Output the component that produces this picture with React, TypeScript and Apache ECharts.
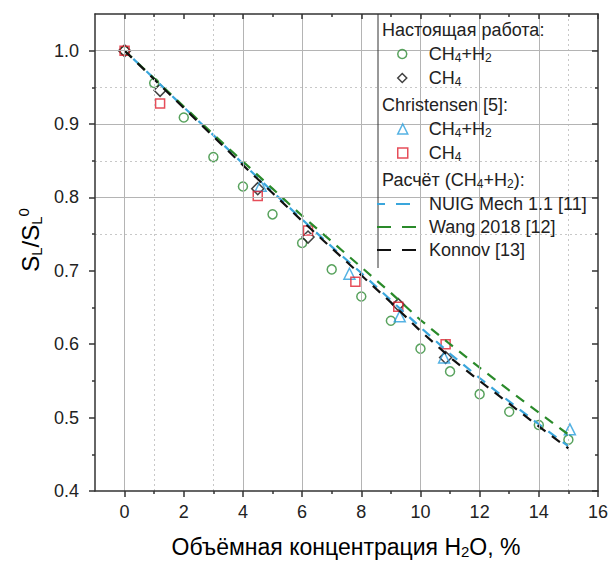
import React, { useEffect, useRef } from 'react';
import * as echarts from 'echarts';

// ---- data ----
const presentMixX = [0, 1, 2, 3, 4, 5, 6, 7, 8, 9, 10, 11, 12, 13, 14, 15];
const presentMixY = [1.0, 0.956, 0.909, 0.855, 0.815, 0.777, 0.738, 0.702, 0.665, 0.632, 0.594, 0.563, 0.532, 0.508, 0.49, 0.47];

const presentCH4X = [0, 1.2, 4.5, 6.2, 9.25, 10.85];
const presentCH4Y = [1.0, 0.946, 0.812, 0.746, 0.654, 0.582];

const christMixX = [4.6, 7.6, 9.3, 10.8, 15.05];
const christMixY = [0.816, 0.696, 0.638, 0.582, 0.484];

const christCH4X = [0, 1.2, 4.5, 6.2, 7.8, 9.25, 10.85];
const christCH4Y = [1.0, 0.928, 0.802, 0.755, 0.685, 0.651, 0.6];

const calcX = [0, 1, 2, 3, 4, 5, 6, 7, 8, 9, 10, 11, 12, 13, 14, 15];
const nuigY = [1.0, 0.962, 0.923, 0.885, 0.846, 0.808, 0.77, 0.733, 0.697, 0.66, 0.623, 0.587, 0.554, 0.522, 0.491, 0.461];
const wangY = [1.0, 0.962, 0.924, 0.886, 0.849, 0.812, 0.775, 0.74, 0.705, 0.67, 0.633, 0.6, 0.568, 0.537, 0.507, 0.477];
const konnovY = [1.0, 0.961, 0.922, 0.883, 0.844, 0.806, 0.768, 0.731, 0.694, 0.657, 0.618, 0.582, 0.55, 0.519, 0.488, 0.458];

// ---- axes / ticks ----
const xMajor = [0, 2, 4, 6, 8, 10, 12, 14, 16];
const xMinor = [1, 3, 5, 7, 9, 11, 13, 15];
const yMajor = [0.4, 0.5, 0.6, 0.7, 0.8, 0.9, 1.0];
const yMinor = [0.45, 0.55, 0.65, 0.75, 0.85, 0.95];

const gridXSolid = [0, 4, 6, 8, 10, 12, 14];
const gridXDotted = [1, 3, 15];
const gridYSolid = [0.8, 0.9, 1.0];
const gridYDotted = [0.75, 0.85, 0.95];

const FONT = '"Liberation Sans", Arial, Helvetica, sans-serif';
const AXIS_COLOR = '#333';
const TEXT_COLOR = '#222';

const legendNames: Record<string, string> = {
  pm: '{n|CH}{s|4}{n|+H}{s|2}',
  pc: '{n|CH}{s|4}',
  cm: '{n|CH}{s|4}{n|+H}{s|2}',
  cc: '{n|CH}{s|4}',
  nuig: '{n|NUIG Mech 1.1 [11]}',
  wang: '{n|Wang 2018 [12]}',
  konnov: '{n|Konnov [13]}',
};

const legendRich = {
  n: { fontSize: 18, lineHeight: 20, fontFamily: FONT, color: TEXT_COLOR },
  s: { fontSize: 12, fontFamily: FONT, color: TEXT_COLOR, verticalAlign: 'bottom' },
};

function pairs(xs: number[], ys: number[]) {
  return xs.map((x, i) => [x, ys[i]]);
}

export default function App() {
  const ref = useRef<HTMLDivElement>(null);

  useEffect(() => {
    document.body.style.margin = '0';
    const chart = echarts.init(ref.current!, null, { renderer: 'svg' });

    const axisLineStyle = { color: AXIS_COLOR, width: 1.5 };
    const baseX = { type: 'value', min: -1, max: 16, splitLine: { show: false } };
    const baseY = { type: 'value', min: 0.4, max: 1.05, splitLine: { show: false } };

    const xAxis = [
      {
        ...baseX, position: 'bottom', z: 6,
        axisLine: { show: true, onZero: false, lineStyle: axisLineStyle },
        axisTick: { show: true, inside: false, length: 6, customValues: xMajor, lineStyle: axisLineStyle },
        axisLabel: { show: true, customValues: xMajor, fontSize: 18, fontFamily: FONT, color: TEXT_COLOR, margin: 12 },
      },
      {
        ...baseX, position: 'bottom', z: 6,
        axisLine: { show: false, onZero: false },
        axisTick: { show: true, inside: false, length: 3, customValues: xMinor, lineStyle: axisLineStyle },
        axisLabel: { show: false },
      },
      {
        ...baseX, position: 'top', z: 6,
        axisLine: { show: true, onZero: false, lineStyle: axisLineStyle },
        axisTick: { show: true, inside: true, length: 5, customValues: xMajor, lineStyle: axisLineStyle },
        axisLabel: { show: false },
      },
      {
        ...baseX, position: 'top', z: 6,
        axisLine: { show: false, onZero: false },
        axisTick: { show: true, inside: true, length: 3, customValues: xMinor, lineStyle: axisLineStyle },
        axisLabel: { show: false },
      },
    ];

    const yAxis = [
      {
        ...baseY, position: 'left', z: 6,
        axisLine: { show: true, onZero: false, lineStyle: axisLineStyle },
        axisTick: { show: true, inside: false, length: 6, customValues: yMajor, lineStyle: axisLineStyle },
        axisLabel: {
          show: true, customValues: yMajor, fontSize: 18, fontFamily: FONT, color: TEXT_COLOR, margin: 16,
          formatter: (v: number) => v.toFixed(1),
        },
      },
      {
        ...baseY, position: 'left', z: 6,
        axisLine: { show: false, onZero: false },
        axisTick: { show: true, inside: false, length: 3, customValues: yMinor, lineStyle: axisLineStyle },
        axisLabel: { show: false },
      },
      {
        ...baseY, position: 'right', z: 6,
        axisLine: { show: true, onZero: false, lineStyle: axisLineStyle },
        axisTick: { show: true, inside: true, length: 6, customValues: yMajor, lineStyle: axisLineStyle },
        axisLabel: { show: false },
      },
      {
        ...baseY, position: 'right', z: 6,
        axisLine: { show: false, onZero: false },
        axisTick: { show: true, inside: true, length: 3, customValues: yMinor, lineStyle: axisLineStyle },
        axisLabel: { show: false },
      },
    ];

    const solid = { color: '#b4b4b4', width: 1, type: 'solid' };
    const dotted = { color: '#c8c8c8', width: 1, type: [2, 3] };
    const gridLines = [
      ...gridXSolid.map((v) => ({ xAxis: v, lineStyle: solid })),
      ...gridXDotted.map((v) => ({ xAxis: v, lineStyle: dotted })),
      ...gridYSolid.map((v) => ({ yAxis: v, lineStyle: solid })),
      ...gridYDotted.map((v) => ({ yAxis: v, lineStyle: dotted })),
    ];

    const dash = [10, 8];

    const series: any[] = [
      {
        name: '__grid', type: 'line', data: [], z: 1, silent: true, symbol: 'none',
        markLine: { silent: true, symbol: ['none', 'none'], label: { show: false }, animation: false, data: gridLines },
      },
      {
        name: 'pm', type: 'scatter', data: pairs(presentMixX, presentMixY), symbol: 'circle', symbolSize: 9,
        itemStyle: { color: 'rgba(0,0,0,0)', borderColor: '#2e8b35', borderWidth: 1.5 },
      },
      {
        name: 'pc', type: 'scatter', data: pairs(presentCH4X, presentCH4Y), symbol: 'diamond', symbolSize: 12,
        itemStyle: { color: 'rgba(0,0,0,0)', borderColor: '#111', borderWidth: 1.5 },
      },
      {
        name: 'cm', type: 'scatter', data: pairs(christMixX, christMixY), symbol: 'triangle', symbolSize: 11,
        itemStyle: { color: 'rgba(0,0,0,0)', borderColor: '#2a9fdc', borderWidth: 1.5 },
      },
      {
        name: 'cc', type: 'scatter', data: pairs(christCH4X, christCH4Y), symbol: 'rect', symbolSize: 9,
        itemStyle: { color: 'rgba(0,0,0,0)', borderColor: '#e02030', borderWidth: 1.5 },
      },
      {
        name: 'nuig', type: 'line', data: pairs(calcX, nuigY), symbol: 'none', showSymbol: false,
        lineStyle: { color: '#3aa6dc', width: 2.2, type: dash, dashOffset: 6 }, itemStyle: { color: '#3aa6dc' },
      },
      {
        name: 'wang', type: 'line', data: pairs(calcX, wangY), symbol: 'none', showSymbol: false,
        lineStyle: { color: '#2a8a2a', width: 2.2, type: dash, dashOffset: 0 }, itemStyle: { color: '#2a8a2a' },
      },
      {
        name: 'konnov', type: 'line', data: pairs(calcX, konnovY), symbol: 'none', showSymbol: false,
        lineStyle: { color: '#111', width: 2.2, type: dash, dashOffset: 0 }, itemStyle: { color: '#111' },
      },
    ];

    const legendCommon = {
      orient: 'vertical',
      padding: 0,
      itemGap: 5,
      selectedMode: false,
      z: 8,
      formatter: (name: string) => legendNames[name] || name,
      textStyle: { fontSize: 18, fontFamily: FONT, color: TEXT_COLOR, rich: legendRich },
    };

    const legend = [
      {
        ...legendCommon, left: 397, top: 45, itemWidth: 9, itemHeight: 9,
        itemStyle: { borderWidth: 1.5 },
        textStyle: { ...legendCommon.textStyle, padding: [0, 0, 0, 17] },
        data: ['pm', 'pc'],
      },
      {
        ...legendCommon, left: 397, top: 120, itemWidth: 10, itemHeight: 10,
        itemStyle: { borderWidth: 1.5 },
        textStyle: { ...legendCommon.textStyle, padding: [0, 0, 0, 16] },
        data: ['cm', 'cc'],
      },
      {
        ...legendCommon, left: 376, top: 195, itemWidth: 40, itemHeight: 10,
        lineStyle: { type: [14, 11], width: 2 },
        itemStyle: { color: 'rgba(0,0,0,0)', borderWidth: 0, opacity: 0 },
        textStyle: { ...legendCommon.textStyle, padding: [0, 0, 0, 7] },
        data: ['nuig', 'wang', 'konnov'],
      },
    ];

    const headerStyle = { font: `18px ${FONT}`, fill: TEXT_COLOR, verticalAlign: 'middle', align: 'left' };

    const graphic = [
      { type: 'rect', z: 3, shape: { x: 378, y: 15, width: 219, height: 253 }, style: { fill: '#fff', stroke: null } },
      { type: 'line', z: 7, shape: { x1: 378, y1: 14, x2: 378, y2: 268 }, style: { stroke: '#333', lineWidth: 1 } },
      { type: 'text', z: 8, x: 382, y: 30, style: { ...headerStyle, text: 'Настоящая работа:' } },
      { type: 'text', z: 8, x: 382, y: 105, style: { ...headerStyle, text: 'Christensen [5]:' } },
      {
        type: 'text', z: 8, x: 382, y: 180,
        style: {
          ...headerStyle,
          text: '{n|Расчёт (CH}{s|4}{n|+H}{s|2}{n|):}',
          rich: legendRich,
        },
      },
      // x-axis title
      {
        type: 'text', z: 8, x: 346, y: 547,
        style: {
          text: '{n|Объёмная концентрация H}{s|2}{n|O, %}',
          align: 'center', verticalAlign: 'middle',
          rich: {
            n: { fontSize: 23, lineHeight: 24, fontFamily: FONT, color: TEXT_COLOR },
            s: { fontSize: 15, fontFamily: FONT, color: TEXT_COLOR, verticalAlign: 'bottom' },
          },
        },
      },
      // y-axis title
      {
        type: 'text', z: 8, x: 30, y: 240, rotation: Math.PI / 2,
        style: {
          text: '{n|S}{s|L}{n|/S}{s|L}{p|0}',
          align: 'center', verticalAlign: 'middle',
          rich: {
            n: { fontSize: 24, lineHeight: 28, fontFamily: FONT, color: TEXT_COLOR },
            s: { fontSize: 15, fontFamily: FONT, color: TEXT_COLOR, verticalAlign: 'bottom' },
            p: { fontSize: 15, fontFamily: FONT, color: TEXT_COLOR, verticalAlign: 'top' },
          },
        },
      },
    ];

    const option: any = {
      animation: false,
      backgroundColor: '#fff',
      grid: { left: 95, right: 13, top: 14, bottom: 72, containLabel: false },
      xAxis,
      yAxis,
      legend,
      series,
      graphic,
    };

    chart.setOption(option);
    return () => chart.dispose();
  }, []);

  return <div ref={ref} style={{ width: 611, height: 563 }} />;
}
